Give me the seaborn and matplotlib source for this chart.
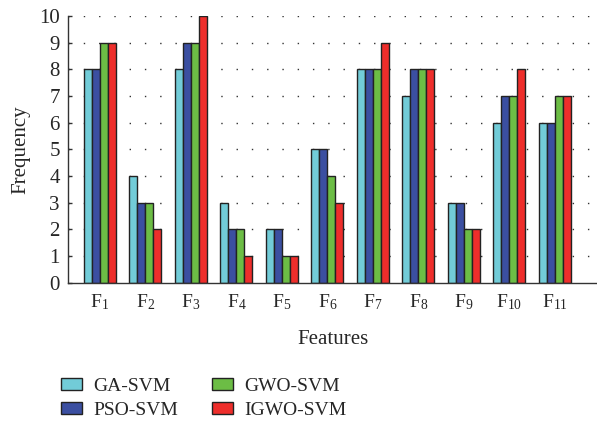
import pandas as pd
import matplotlib
matplotlib.use('Agg')
import matplotlib.pyplot as plt
import seaborn as sns

# Selection frequency of each feature per method
features = ['F1', 'F2', 'F3', 'F4', 'F5', 'F6', 'F7', 'F8', 'F9', 'F10', 'F11']
methods = ['GA-SVM', 'PSO-SVM', 'GWO-SVM', 'IGWO-SVM']
ga_svm = [8, 4, 8, 3, 2, 5, 8, 7, 3, 6, 6]
pso_svm = [8, 3, 9, 2, 2, 5, 8, 8, 3, 7, 6]
gwo_svm = [9, 3, 9, 2, 1, 4, 8, 8, 2, 7, 7]
igwo_svm = [9, 2, 10, 1, 1, 3, 9, 8, 2, 8, 7]
tick_labels = [r'$\mathregular{F_{%s}}$' % f[1:] for f in features]

colors = ['#72CCD8', '#3B4FA1', '#6CBD45', '#EE2E2B']

rows = []
for m, vals in zip(methods, [ga_svm, pso_svm, gwo_svm, igwo_svm]):
    for f, v in zip(features, vals):
        rows.append({'Features': f, 'Method': m, 'Frequency': v})
df = pd.DataFrame(rows)

sns.set_style('white')
plt.rcParams['font.family'] = ['Liberation Serif', 'DejaVu Serif']
plt.rcParams['mathtext.fontset'] = 'custom'
plt.rcParams['mathtext.rm'] = 'Liberation Serif'

fig = plt.figure(figsize=(5.97, 4.24), dpi=100)
ax = fig.add_axes([0.114, 0.333, 0.886, 0.629])

sns.barplot(data=df, x='Features', y='Frequency', hue='Method',
            palette=colors, width=0.7, edgecolor='#222222', linewidth=1.0,
            saturation=1, ax=ax, legend=True)

ax.set_ylim(0, 10)
ax.set_xlim(-0.70, 10.93)
ax.set_yticks(range(0, 11))
ax.set_xticks(range(len(features)))
ax.set_xticklabels(tick_labels)
ax.tick_params(axis='y', labelsize=15, direction='in', length=3,
               width=1.0, color='#333333', left=True, pad=6)
ax.tick_params(axis='x', labelsize=14, length=0, pad=7)
ax.set_xlabel('Features', fontsize=15, labelpad=13)
ax.set_ylabel('Frequency', fontsize=15, labelpad=6)

for y in range(1, 11):
    ax.axhline(y, color='#333333', linestyle=(0, (1, 10)), linewidth=1.0, zorder=0)

for side in ['top', 'right']:
    ax.spines[side].set_visible(False)
for side in ['left', 'bottom']:
    ax.spines[side].set_color('#333333')
    ax.spines[side].set_linewidth(1.0)

handles, labels = ax.get_legend_handles_labels()
ax.get_legend().remove()
fig.legend(handles, labels, loc='upper left', bbox_to_anchor=(0.073, 0.15),
           ncol=2, frameon=False, fontsize=14, handlelength=1.1,
           handleheight=0.55, columnspacing=1.75, labelspacing=0.35,
           handletextpad=0.55)

fig.savefig('out.png', dpi=100)
